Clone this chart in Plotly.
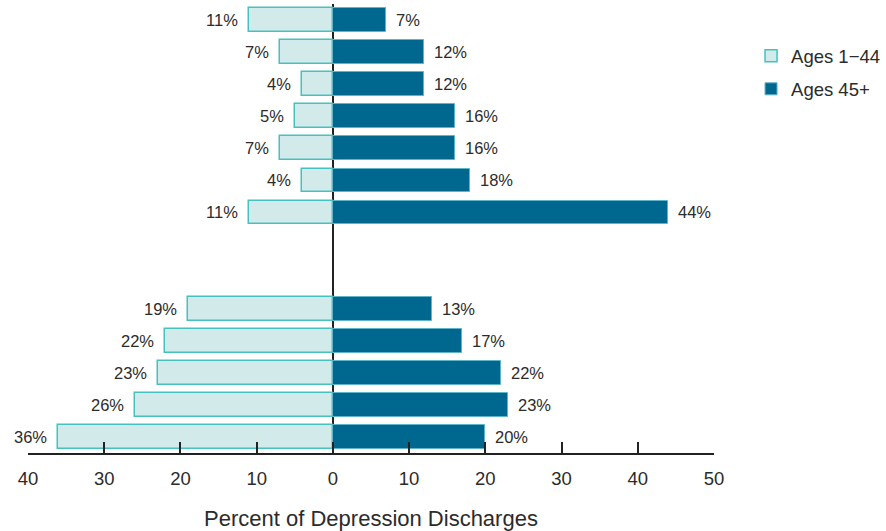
import plotly.graph_objects as go

# Data (top to bottom)
row_index = [0, 1, 2, 3, 4, 5, 6, 9, 10, 11, 12, 13]
ages_1_44 = [11, 7, 4, 5, 7, 4, 11, 19, 22, 23, 26, 36]
ages_45_plus = [7, 12, 12, 16, 16, 18, 44, 13, 17, 22, 23, 20]
tick_vals = [-40, -30, -20, -10, 0, 10, 20, 30, 40, 50]
tick_text = ["40", "30", "20", "10", "0", "10", "20", "30", "40", "50"]

LIGHT = "#d3eaea"
LIGHT_LINE = "#45c2be"
DARK = "#00678f"
TEXT = "#2b2b2b"
FONT = "Liberation Sans, Arial, Helvetica, sans-serif"

fig = go.Figure()
fig.add_trace(go.Bar(
    y=row_index, x=[-v for v in ages_1_44], orientation="h", name="Ages 1\u221244",
    legendgroup="a",
    marker=dict(color=LIGHT, line=dict(color=LIGHT_LINE, width=1.5)),
    width=0.74, hoverinfo="skip",
))
fig.add_trace(go.Bar(
    y=row_index, x=ages_45_plus, orientation="h", name="Ages 45+",
    legendgroup="b",
    marker=dict(color=DARK, line=dict(color="#5fb4c9", width=1)),
    width=0.74, hoverinfo="skip",
))

annotations = []
for yi, v in zip(row_index, ages_1_44):
    annotations.append(dict(x=-v, y=yi, text=f"{v}%", xanchor="right", xshift=-9,
                            showarrow=False, font=dict(size=16.5, color=TEXT, family=FONT)))
for yi, v in zip(row_index, ages_45_plus):
    annotations.append(dict(x=v, y=yi, text=f"{v}%", xanchor="left", xshift=8,
                            showarrow=False, font=dict(size=16.5, color=TEXT, family=FONT)))

fig.update_layout(
    width=886, height=531,
    margin=dict(l=28, r=172, t=4, b=78, autoexpand=False),
    paper_bgcolor="white", plot_bgcolor="white",
    barmode="relative", bargap=0,
    font=dict(family=FONT, color=TEXT),
    showlegend=True,
    legend=dict(x=1.054, y=0.926, xanchor="left", yanchor="top",
                font=dict(size=18.5, color=TEXT, family=FONT),
                tracegroupgap=6, bgcolor="rgba(0,0,0,0)"),
    annotations=annotations,
    xaxis=dict(
        range=[-40, 50], tickvals=tick_vals, ticktext=tick_text,
        showgrid=False, zeroline=True, zerolinecolor="#222", zerolinewidth=2,
        showline=True, linecolor="#222", linewidth=2,
        ticks="inside", ticklen=11, tickwidth=2, tickcolor="#222",
        ticklabelstandoff=8, automargin=False,
        tickfont=dict(size=18.5, color=TEXT, family=FONT),
        title=dict(text="Percent of Depression Discharges", standoff=24,
                   font=dict(size=22, color=TEXT, family=FONT)),
        fixedrange=True,
    ),
    yaxis=dict(range=[13.5, -0.5], showticklabels=False, showgrid=False,
               zeroline=False, showline=False, ticks="", fixedrange=True),
)

fig.write_html("out.html", config={"displayModeBar": False},
               post_script="document.body.style.margin='0';document.body.style.overflow='hidden';")
